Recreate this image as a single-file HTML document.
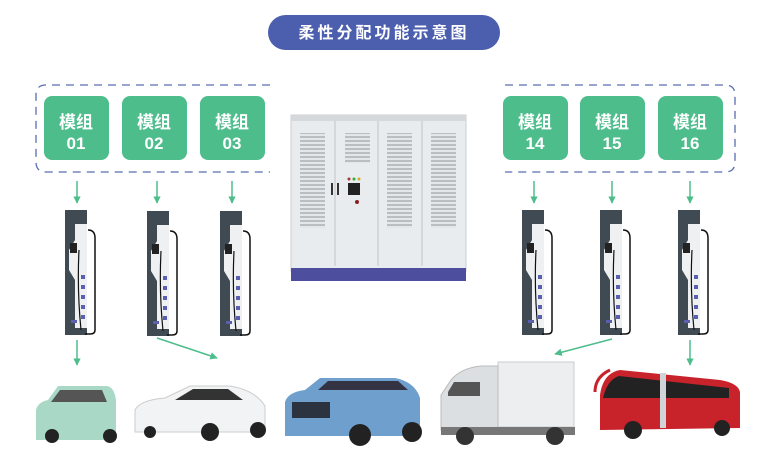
<!DOCTYPE html>
<html><head><meta charset="utf-8"><style>
body{margin:0;background:#fff;width:776px;height:467px;overflow:hidden;font-family:"Liberation Sans","Noto Sans CJK SC",sans-serif}
</style></head><body>
<svg width="776" height="467" viewBox="0 0 776 467" xmlns="http://www.w3.org/2000/svg">
<defs>
<pattern id="lv" width="10" height="4" patternUnits="userSpaceOnUse"><rect width="10" height="4" fill="#e4e7ea"/><rect width="10" height="2" fill="#b9bec3"/></pattern>
<marker id="ar" viewBox="0 0 10 10" refX="9" refY="5" markerWidth="5" markerHeight="5" orient="auto"><path d="M0,0L10,5L0,10z" fill="#4dbd8c"/></marker>
<g id="chg">
<rect x="0" y="0" width="22" height="125" fill="#3f4a52"/>
<path d="M10,14 H22 V118 H10 V70 L4,60 V40 L10,30Z" fill="#eef0f2"/>
<rect x="5" y="33" width="7" height="10" fill="#222"/>
<rect x="16" y="65" width="4" height="4" fill="#5b5fb0"/>
<rect x="16" y="75" width="4" height="4" fill="#5b5fb0"/>
<rect x="16" y="85" width="4" height="4" fill="#5b5fb0"/>
<rect x="16" y="95" width="4" height="4" fill="#5b5fb0"/>
<rect x="16" y="105" width="4" height="4" fill="#5b5fb0"/>
<rect x="6" y="110" width="6" height="3" fill="#5b5fb0"/>
<path d="M23,20 q7,0 7,8 v92 q0,4 -5,4 h-5" stroke="#111" stroke-width="1.5" fill="none"/>
<path d="M14,40 q-2,40 2,80" stroke="#111" stroke-width="1.2" fill="none"/>
</g>
</defs>
<rect x="268" y="15" width="232" height="35" rx="17.5" fill="#4c5fae"/>
<text x="384" y="38" text-anchor="middle" fill="#fff" font-size="16" font-weight="bold" letter-spacing="3">柔性分配功能示意图</text>
<path d="M270,85 H46 q-10,0 -10,10 V162 q0,10 10,10 H270" fill="none" stroke="#5a6db0" stroke-width="1.3" stroke-dasharray="8,6"/>
<path d="M505,85 H725 q10,0 10,10 V162 q0,10 -10,10 H505" fill="none" stroke="#5a6db0" stroke-width="1.3" stroke-dasharray="8,6"/>
<g fill="#4dbd8c">
<rect x="44" y="96" width="65" height="64" rx="8"/><rect x="122" y="96" width="65" height="64" rx="8"/><rect x="200" y="96" width="65" height="64" rx="8"/>
<rect x="503" y="96" width="65" height="64" rx="8"/><rect x="580" y="96" width="65" height="64" rx="8"/><rect x="658" y="96" width="65" height="64" rx="8"/>
</g>
<g fill="#fff" font-size="17" font-weight="bold" text-anchor="middle">
<text x="76" y="128">模组</text><text x="76" y="149">01</text>
<text x="154" y="128">模组</text><text x="154" y="149">02</text>
<text x="232" y="128">模组</text><text x="232" y="149">03</text>
<text x="535" y="128">模组</text><text x="535" y="149">14</text>
<text x="612" y="128">模组</text><text x="612" y="149">15</text>
<text x="690" y="128">模组</text><text x="690" y="149">16</text>
</g>
<g stroke="#4dbd8c" stroke-width="1.5" marker-end="url(#ar)">
<line x1="77" y1="181" x2="77" y2="203"/><line x1="157" y1="181" x2="157" y2="203"/><line x1="232" y1="181" x2="232" y2="203"/>
<line x1="534" y1="181" x2="534" y2="203"/><line x1="612" y1="181" x2="612" y2="203"/><line x1="690" y1="181" x2="690" y2="203"/>
<line x1="77" y1="340" x2="77" y2="365"/><line x1="157" y1="338" x2="217" y2="358"/>
<line x1="612" y1="339" x2="555" y2="354"/><line x1="690" y1="340" x2="690" y2="365"/>
</g>
<use href="#chg" x="65" y="210"/><use href="#chg" x="147" y="211"/><use href="#chg" x="220" y="211"/>
<use href="#chg" x="522" y="210"/><use href="#chg" x="600" y="210"/><use href="#chg" x="678" y="210"/>
<rect x="291" y="115" width="175" height="156" fill="#e9ecee" stroke="#c9cdd1"/>
<rect x="291" y="115" width="175" height="6" fill="#d5d9dc"/>
<g stroke="#bfc4c8"><line x1="335" y1="121" x2="335" y2="266"/><line x1="378" y1="121" x2="378" y2="266"/><line x1="422" y1="121" x2="422" y2="266"/></g>
<g fill="url(#lv)">
<rect x="300" y="133" width="25" height="95"/><rect x="345" y="133" width="25" height="30"/><rect x="387" y="133" width="25" height="95"/><rect x="431" y="133" width="25" height="95"/>
</g>
<rect x="348" y="183" width="12" height="12" fill="#222"/>
<circle cx="349" cy="179" r="1.5" fill="#a33"/><circle cx="354" cy="179" r="1.5" fill="#3a3"/><circle cx="359" cy="179" r="1.5" fill="#ca3"/>
<circle cx="357" cy="202" r="2" fill="#822"/>
<rect x="331" y="183" width="2" height="12" fill="#333"/><rect x="337" y="183" width="2" height="12" fill="#333"/>
<rect x="291" y="268" width="175" height="13" fill="#4d4f9e"/>
<path d="M36,440 V410 q2,-8 12,-10 l10,-14 h48 q8,0 10,14 v40z" fill="#a9d9c6"/>
<path d="M60,390 h42 l5,12 h-56z" fill="#555"/>
<circle cx="52" cy="436" r="7" fill="#222"/><circle cx="110" cy="436" r="7" fill="#222"/>
<path d="M135,432 V410 q5,-10 30,-12 l25,-12 h40 q25,4 35,20 v26z" fill="#f2f3f5" stroke="#ccc"/>
<path d="M175,400 l18,-11 h35 l15,11z" fill="#333"/>
<circle cx="210" cy="432" r="9" fill="#222"/><circle cx="258" cy="430" r="8" fill="#222"/><circle cx="150" cy="432" r="6" fill="#222"/>
<path d="M285,436 V402 q3,-10 20,-12 l15,-12 h75 q20,4 25,20 v38z" fill="#6e9fcd"/>
<path d="M318,390 l10,-9 h70 l10,9z" fill="#334"/>
<rect x="292" y="402" width="38" height="16" fill="#2c3340"/>
<circle cx="360" cy="435" r="11" fill="#222"/><circle cx="412" cy="432" r="10" fill="#222"/>
<rect x="498" y="362" width="76" height="65" fill="#eceeef" stroke="#ccc"/>
<path d="M441,430 V395 l10,-15 q10,-12 30,-14 h17 v64z" fill="#dcdfe2" stroke="#bbb"/>
<path d="M448,392 l6,-10 h26 v14 h-32z" fill="#555"/>
<rect x="441" y="427" width="134" height="8" fill="#777"/>
<circle cx="465" cy="436" r="9" fill="#333"/><circle cx="555" cy="436" r="9" fill="#333"/>
<path d="M600,430 V395 q3,-22 20,-25 l100,10 q18,3 20,12 v36z" fill="#c8222b"/>
<path d="M603,398 q4,-18 16,-22 l110,12 v10 l-126,0z" fill="#222"/>
<path d="M595,392 q0,-15 15,-22" stroke="#c8222b" stroke-width="3" fill="none"/>
<rect x="660" y="373" width="6" height="55" fill="#d0d4d8"/>
<circle cx="633" cy="430" r="9" fill="#222"/><circle cx="722" cy="428" r="8" fill="#222"/>
</svg>
</body></html>
